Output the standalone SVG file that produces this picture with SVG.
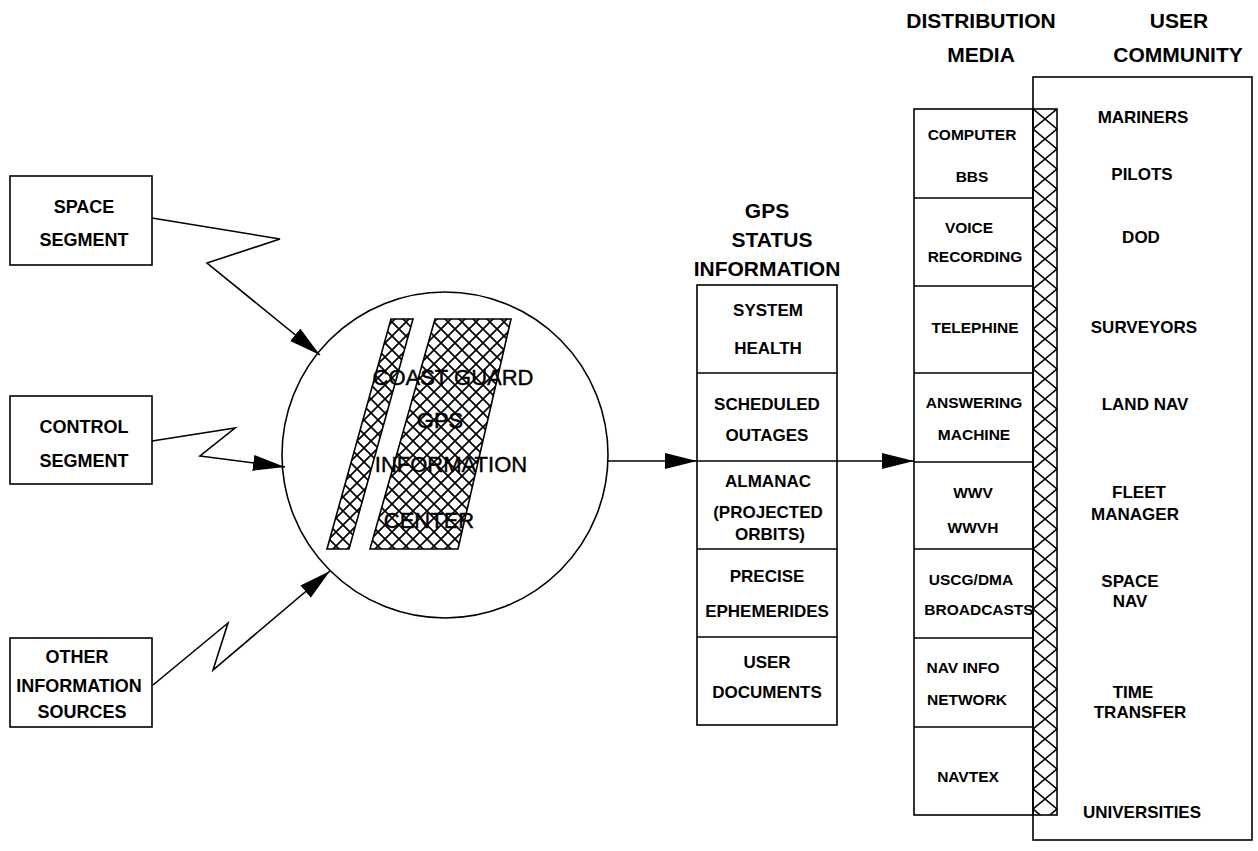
<svg xmlns="http://www.w3.org/2000/svg" width="1258" height="851" viewBox="0 0 1258 851">
<style>
.box{fill:none;stroke:#000;stroke-width:1.6}
.ln{fill:none;stroke:#000;stroke-width:1.6}
.t{font-family:"Liberation Sans",Arial,sans-serif;font-weight:bold;fill:#000;text-anchor:middle}
.s18{font-size:18px}
.s17{font-size:17px}
.s16{font-size:15.5px}
.s21{font-size:21px}
.c{font-family:"Liberation Sans",Arial,sans-serif;font-size:22px;fill:#000;stroke:#000;stroke-width:0.4;text-anchor:middle}
</style>
<defs>
<pattern id="hatch" patternUnits="userSpaceOnUse" x="0" y="0" width="14" height="14">
<path d="M0,0 L14,14 M14,0 L0,14" stroke="#000" stroke-width="1.7" fill="none"/>
</pattern>
<pattern id="hatch2" patternUnits="userSpaceOnUse" x="1033" y="109" width="24" height="20">
<path d="M0,0 L24,20 M24,0 L0,20" stroke="#000" stroke-width="1.6" fill="none"/>
</pattern>
<marker id="arr" markerUnits="userSpaceOnUse" markerWidth="34" markerHeight="18" refX="32" refY="8" orient="auto">
<path d="M0,0 L32,8 L0,16 Z" fill="#000"/>
</marker>
</defs>
<rect width="1258" height="851" fill="#fff"/>

<g id="space-segment">
<rect class="box" x="10" y="176" width="142" height="89"/>
<text class="t s18" x="84" y="213">SPACE</text>
<text class="t s18" x="84" y="246">SEGMENT</text>
</g>
<g id="control-segment">
<rect class="box" x="10" y="396" width="142" height="88"/>
<text class="t s18" x="84" y="433">CONTROL</text>
<text class="t s18" x="84" y="467">SEGMENT</text>
</g>
<g id="other-sources">
<rect class="box" x="10" y="638" width="142" height="89"/>
<text class="t s18" x="77" y="663">OTHER</text>
<text class="t s18" x="79" y="692">INFORMATION</text>
<text class="t s18" x="82" y="718">SOURCES</text>
</g>

<g id="info-center">
<circle class="box" cx="445" cy="455" r="163"/>
<polygon points="391,319 413,319 349,549 327,549" fill="url(#hatch)" stroke="#000" stroke-width="1.6"/>
<polygon points="435,319 511,319 458,549 370,549" fill="url(#hatch)" stroke="#000" stroke-width="1.6"/>
<text class="c" x="453" y="385">COAST GUARD</text>
<text class="c" x="440" y="428">GPS</text>
<text class="c" x="451" y="472">INFORMATION</text>
<text class="c" x="429" y="528">CENTER</text>
</g>

<g id="gps-status">
<text class="t s21" x="767" y="218">GPS</text>
<text class="t s21" x="772" y="247">STATUS</text>
<text class="t s21" x="767" y="276">INFORMATION</text>
<rect class="box" x="697" y="285" width="140" height="440"/>
<path class="ln" d="M697,373 H837 M697,461 H837 M697,549 H837 M697,637 H837"/>
<text class="t s17" x="768" y="316">SYSTEM</text>
<text class="t s17" x="768" y="354">HEALTH</text>
<text class="t s17" x="767" y="410">SCHEDULED</text>
<text class="t s17" x="767" y="441">OUTAGES</text>
<text class="t s17" x="768" y="487">ALMANAC</text>
<text class="t s17" x="768" y="518">(PROJECTED</text>
<text class="t s17" x="770" y="540">ORBITS)</text>
<text class="t s17" x="767" y="582">PRECISE</text>
<text class="t s17" x="767" y="617">EPHEMERIDES</text>
<text class="t s17" x="767" y="668">USER</text>
<text class="t s17" x="767" y="698">DOCUMENTS</text>
</g>

<g id="distribution-media">
<text class="t s21" x="981" y="28">DISTRIBUTION</text>
<text class="t s21" x="981" y="62">MEDIA</text>
<rect class="box" x="914" y="109" width="119" height="706"/>
<path class="ln" d="M914,198 H1033 M914,286 H1033 M914,373 H1033 M914,462 H1033 M914,549 H1033 M914,638 H1033 M914,727 H1033"/>
<text class="t s16" x="972" y="140">COMPUTER</text>
<text class="t s16" x="972" y="182">BBS</text>
<text class="t s16" x="969" y="233">VOICE</text>
<text class="t s16" x="975" y="262">RECORDING</text>
<text class="t s16" x="975" y="333">TELEPHINE</text>
<text class="t s16" x="974" y="408">ANSWERING</text>
<text class="t s16" x="974" y="440">MACHINE</text>
<text class="t s16" x="973" y="498">WWV</text>
<text class="t s16" x="973" y="533">WWVH</text>
<text class="t s16" x="971" y="585">USCG/DMA</text>
<text class="t s16" x="979" y="615">BROADCASTS</text>
<text class="t s16" x="963" y="673">NAV INFO</text>
<text class="t s16" x="967" y="705">NETWORK</text>
<text class="t s16" x="968" y="782">NAVTEX</text>
</g>

<g id="user-community">
<text class="t s21" x="1179" y="28">USER</text>
<text class="t s21" x="1178" y="62">COMMUNITY</text>
<rect class="box" x="1033" y="77" width="219" height="763"/>
<rect x="1033" y="109" width="24" height="706" fill="url(#hatch2)" stroke="#000" stroke-width="1.6"/>
<text class="t s17" x="1143" y="123">MARINERS</text>
<text class="t s17" x="1142" y="180">PILOTS</text>
<text class="t s17" x="1141" y="243">DOD</text>
<text class="t s17" x="1144" y="333">SURVEYORS</text>
<text class="t s17" x="1145" y="410">LAND NAV</text>
<text class="t s17" x="1139" y="498">FLEET</text>
<text class="t s17" x="1135" y="520">MANAGER</text>
<text class="t s17" x="1130" y="587">SPACE</text>
<text class="t s17" x="1130" y="607">NAV</text>
<text class="t s17" x="1133" y="698">TIME</text>
<text class="t s17" x="1140" y="718">TRANSFER</text>
<text class="t s17" x="1142" y="818">UNIVERSITIES</text>
</g>

<g id="connectors">
<polyline class="ln" points="152,218 280,239 207,263 320,355" marker-end="url(#arr)"/>
<polyline class="ln" points="152,441 235,428 200,456 285,467" marker-end="url(#arr)"/>
<polyline class="ln" points="153,685 228,623 213,670 330,571" marker-end="url(#arr)"/>
<line class="ln" x1="608" y1="461" x2="697" y2="461" marker-end="url(#arr)"/>
<line class="ln" x1="837" y1="461" x2="914" y2="461" marker-end="url(#arr)"/>
</g>
</svg>
